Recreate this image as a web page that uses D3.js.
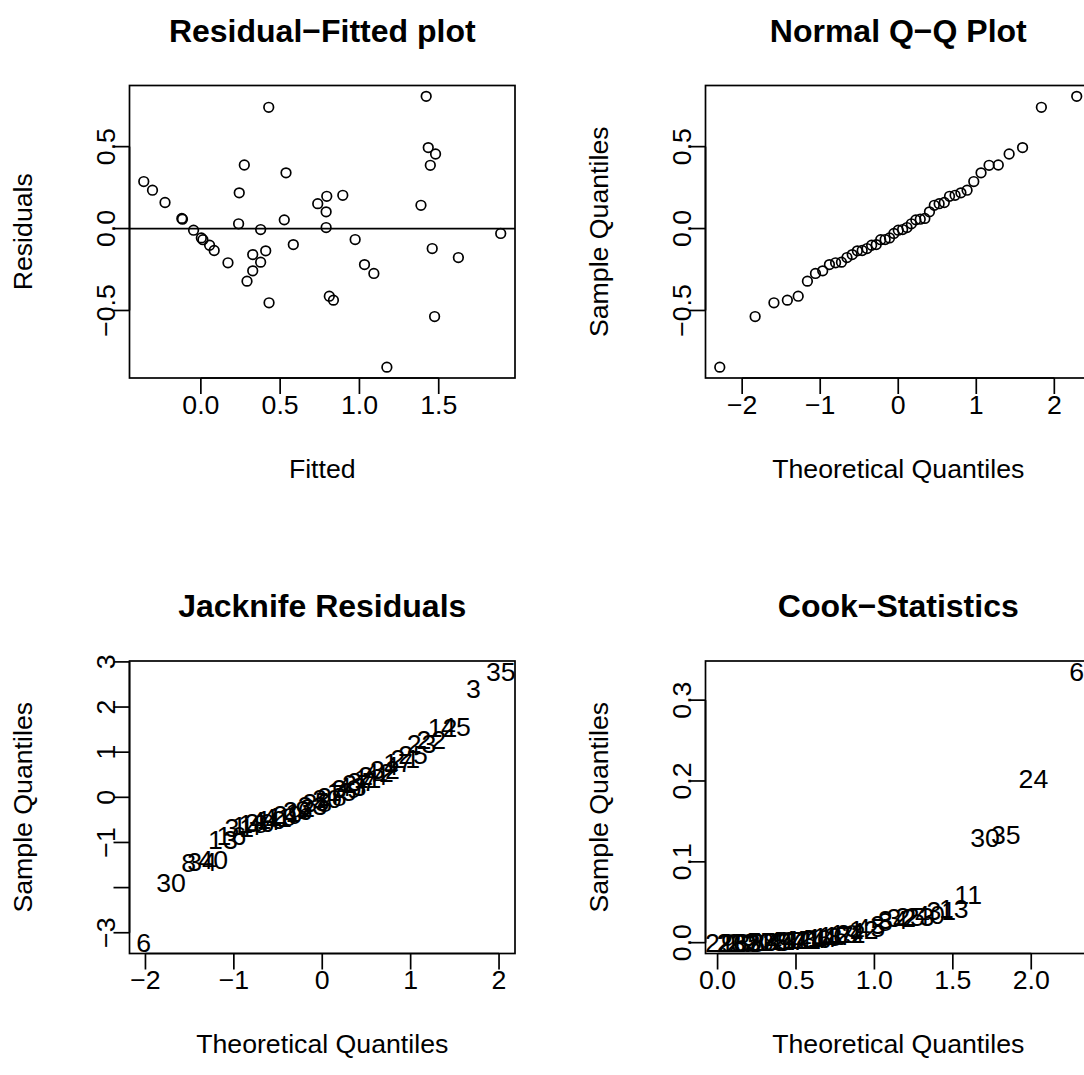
<!DOCTYPE html>
<html>
<head>
<meta charset="utf-8">
<script src="https://cdn.jsdelivr.net/npm/d3@7"></script>
<style>
  body { margin: 0; background: #fff; }
  svg { display: block; }
  text { font-family: "Liberation Sans", Arial, sans-serif; fill: #000; }
</style>
</head>
<body>
<div id="chart"></div>
<script>
// ---- data ----
// residual vs fitted
const fitted = [-0.360, -0.305, -0.226, -0.120, -0.116, -0.046, 0.003, 0.013, 0.055, 0.084,
  0.171, 0.238, 0.242, 0.274, 0.327, 0.327, 0.291, 0.377, 0.377, 0.409,
  0.428, 0.430, 0.537, 0.526, 0.583, 0.737, 0.794, 0.790, 0.790, 0.895,
  0.973, 1.032, 1.091, 0.810, 0.836, 1.173, 1.421, 1.434, 1.480, 1.447,
  1.388, 1.459, 1.624, 1.474, 1.891];
const residuals = [0.287, 0.234, 0.159, 0.062, 0.057, -0.010, -0.057, -0.068, -0.102, -0.134,
  -0.209, 0.029, 0.218, 0.388, -0.159, -0.258, -0.321, -0.006, -0.205, -0.136,
  0.740, -0.453, 0.340, 0.053, -0.098, 0.152, 0.197, 0.102, 0.006, 0.203,
  -0.067, -0.220, -0.274, -0.413, -0.437, -0.846, 0.807, 0.494, 0.455, 0.386,
  0.142, -0.122, -0.177, -0.537, -0.030];

// normal quantiles used by the three quantile plots
const qqTheory = [-2.287, -1.834, -1.593, -1.421, -1.282, -1.164, -1.061, -0.968, -0.882, -0.803,
  -0.728, -0.657, -0.590, -0.524, -0.462, -0.400, -0.341, -0.282, -0.225, -0.168,
  -0.112, -0.056, 0, 0.056, 0.112, 0.168, 0.225, 0.282, 0.341, 0.400,
  0.462, 0.524, 0.590, 0.657, 0.728, 0.803, 0.882, 0.968, 1.061, 1.164,
  1.282, 1.421, 1.593, 1.834, 2.287];
const jackTheory = [-2.019, -1.711, -1.512, -1.360, -1.234, -1.124, -1.027, -0.939, -0.857, -0.781,
  -0.709, -0.641, -0.575, -0.512, -0.451, -0.391, -0.333, -0.276, -0.220, -0.164,
  -0.109, -0.055, 0, 0.055, 0.109, 0.164, 0.220, 0.276, 0.333, 0.391,
  0.451, 0.512, 0.575, 0.641, 0.709, 0.781, 0.857, 0.939, 1.027, 1.124,
  1.234, 1.360, 1.512, 1.711, 2.019];
const jackValues = [-3.22, -1.89, -1.45, -1.42, -1.38, -0.94, -0.84, -0.66, -0.62, -0.58,
  -0.55, -0.52, -0.48, -0.45, -0.42, -0.38, -0.33, -0.30, -0.27, -0.22,
  -0.17, -0.12, -0.08, -0.03, 0.02, 0.08, 0.13, 0.19, 0.25, 0.30,
  0.36, 0.42, 0.48, 0.55, 0.62, 0.70, 0.78, 0.87, 0.96, 1.20,
  1.28, 1.55, 1.58, 2.41, 2.78];
const jackLabels = [6, 30, 8, 34, 40, 13, 16, 31, 14, 18, 36, 44, 10, 41, 19, 29, 1, 26, 9, 2,
  33, 38, 5, 20, 28, 7, 15, 39, 43, 27, 37, 11, 24, 42, 32, 4, 17, 21, 25, 23,
  22, 12, 45, 3, 35];
const cookTheory = [0.014, 0.041, 0.069, 0.097, 0.124, 0.152, 0.180, 0.208, 0.236, 0.265,
  0.293, 0.322, 0.352, 0.381, 0.411, 0.441, 0.471, 0.503, 0.534, 0.566,
  0.599, 0.632, 0.666, 0.701, 0.736, 0.773, 0.811, 0.850, 0.890, 0.932,
  0.975, 1.020, 1.068, 1.118, 1.171, 1.227, 1.288, 1.354, 1.426, 1.506,
  1.598, 1.706, 1.838, 2.014, 2.290];
const cookValues = [0.0000, 0.0001, 0.0002, 0.0003, 0.0004, 0.0005, 0.0006, 0.0008, 0.0010, 0.0012,
  0.0014, 0.0016, 0.0019, 0.0022, 0.0025, 0.0028, 0.0031, 0.0035, 0.0039, 0.0043,
  0.0050, 0.0058, 0.0066, 0.0075, 0.0085, 0.0095, 0.011, 0.012, 0.014, 0.016,
  0.019, 0.023, 0.026, 0.029, 0.031, 0.032, 0.033, 0.035, 0.040, 0.042,
  0.060, 0.130, 0.1345, 0.203, 0.335];
const cookLabels = [21, 2, 9, 26, 1, 29, 33, 38, 5, 20, 28, 7, 15, 39, 43, 27, 37, 42, 10, 41,
  44, 36, 14, 18, 16, 17, 19, 22, 4, 12, 45, 3, 8, 34, 32, 25, 23, 40, 31, 13,
  11, 30, 35, 24, 6];

// tick values
const rfXTicks = [0, 0.5, 1, 1.5];
const rfYTicks = [-0.5, 0, 0.5];
const qqXTicks = [-2, -1, 0, 1, 2];
const qqYTicks = [-0.5, 0, 0.5];
const jackXTicks = [-2, -1, 0, 1, 2];
const jackYTicks = [-3, -2, -1, 0, 1, 2, 3];
const jackYLabelShown = [true, false, true, true, true, true, true];
const cookXTicks = [0, 0.5, 1, 1.5, 2];
const cookYTicks = [0, 0.1, 0.2, 0.3];

// ---- layout, in the style of R's par(mfrow = c(2, 2)) ----
const width = 1084, height = 1075;
const panelW = 576, panelH = 575.5;
const box = {left: 129.5, top: 85.5, w: 385.5, h: 292.5};
const fontSize = 26.7;
const titleSize = 32;
const tickLen = 16;
const lw = 1.7;

const svg = d3.select("#chart").append("svg")
  .attr("width", width)
  .attr("height", height);

// R pads the data range by 4% on each side
function rRange(vals) {
  const [a, b] = d3.extent(vals);
  const d = (b - a) * 0.04;
  return [a - d, b + d];
}

const fmt1 = v => (v < 0 ? "\u2212" : "") + Math.abs(v).toFixed(1);
const fmt0 = v => (v < 0 ? "\u2212" : "") + Math.abs(v);

function panel(col, row, opt) {
  const g = svg.append("g")
    .attr("transform", `translate(${col * panelW},${row * panelH})`);

  const x = d3.scaleLinear().domain(rRange(opt.xs)).range([box.left, box.left + box.w]);
  const y = d3.scaleLinear().domain(rRange(opt.ys)).range([box.top + box.h, box.top]);
  const bottom = box.top + box.h;

  // title
  g.append("text")
    .attr("x", box.left + box.w / 2)
    .attr("y", 41.5)
    .attr("text-anchor", "middle")
    .style("font-size", titleSize + "px")
    .style("font-weight", "bold")
    .text(opt.title);

  // x axis (ticks + labels)
  const xa = g.append("g");
  xa.append("line")
    .attr("x1", x(opt.xTicks[0])).attr("x2", x(opt.xTicks[opt.xTicks.length - 1]))
    .attr("y1", bottom).attr("y2", bottom)
    .attr("stroke", "#000").attr("stroke-width", lw);
  opt.xTicks.forEach(t => {
    xa.append("line")
      .attr("x1", x(t)).attr("x2", x(t))
      .attr("y1", bottom).attr("y2", bottom + tickLen)
      .attr("stroke", "#000").attr("stroke-width", lw);
    xa.append("text")
      .attr("x", x(t)).attr("y", bottom + 35.6)
      .attr("text-anchor", "middle")
      .style("font-size", fontSize + "px")
      .text(opt.xFmt(t));
  });

  // y axis
  const ya = g.append("g");
  ya.append("line")
    .attr("x1", box.left).attr("x2", box.left)
    .attr("y1", y(opt.yTicks[0])).attr("y2", y(opt.yTicks[opt.yTicks.length - 1]))
    .attr("stroke", "#000").attr("stroke-width", lw);
  opt.yTicks.forEach((t, i) => {
    ya.append("line")
      .attr("x1", box.left - tickLen).attr("x2", box.left)
      .attr("y1", y(t)).attr("y2", y(t))
      .attr("stroke", "#000").attr("stroke-width", lw);
    if (opt.yShown && !opt.yShown[i]) return;
    ya.append("text")
      .attr("transform", `translate(${box.left - 14.4},${y(t)}) rotate(-90)`)
      .attr("text-anchor", "middle")
      .style("font-size", fontSize + "px")
      .text(opt.yFmt(t));
  });

  // axis titles
  g.append("text")
    .attr("x", box.left + box.w / 2).attr("y", bottom + 99.5)
    .attr("text-anchor", "middle")
    .style("font-size", fontSize + "px")
    .text(opt.xLabel);
  g.append("text")
    .attr("transform", `translate(${box.left - 98},${box.top + box.h / 2}) rotate(-90)`)
    .attr("text-anchor", "middle")
    .style("font-size", fontSize + "px")
    .text(opt.yLabel);

  const plot = g.append("g");
  opt.draw(plot, x, y);

  // box
  g.append("rect")
    .attr("x", box.left).attr("y", box.top)
    .attr("width", box.w).attr("height", box.h)
    .attr("fill", "none").attr("stroke", "#000").attr("stroke-width", lw);
}

function circles(plot, x, y, xs, ys) {
  plot.selectAll("circle")
    .data(xs.map((v, i) => [v, ys[i]]))
    .join("circle")
    .attr("cx", d => x(d[0]))
    .attr("cy", d => y(d[1]))
    .attr("r", 4.8)
    .attr("fill", "none")
    .attr("stroke", "#000")
    .attr("stroke-width", lw);
}

function labels(plot, x, y, xs, ys, labs) {
  plot.selectAll("text")
    .data(xs.map((v, i) => [v, ys[i], labs[i]]))
    .join("text")
    .attr("x", d => x(d[0]))
    .attr("y", d => y(d[1]))
    .attr("dy", "0.36em")
    .attr("text-anchor", "middle")
    .style("font-size", fontSize + "px")
    .text(d => d[2]);
}

// Residual-Fitted
panel(0, 0, {
  title: "Residual\u2212Fitted plot", xLabel: "Fitted", yLabel: "Residuals",
  xs: fitted, ys: residuals, xTicks: rfXTicks, yTicks: rfYTicks, xFmt: fmt1, yFmt: fmt1,
  draw: (p, x, y) => {
    circles(p, x, y, fitted, residuals);
    p.append("line")
      .attr("x1", box.left).attr("x2", box.left + box.w)
      .attr("y1", y(0)).attr("y2", y(0))
      .attr("stroke", "#000").attr("stroke-width", lw);
  }
});

// Normal Q-Q
const qqSample = d3.sort(residuals);
panel(1, 0, {
  title: "Normal Q\u2212Q Plot", xLabel: "Theoretical Quantiles", yLabel: "Sample Quantiles",
  xs: qqTheory, ys: qqSample, xTicks: qqXTicks, yTicks: qqYTicks, xFmt: fmt0, yFmt: fmt1,
  draw: (p, x, y) => circles(p, x, y, qqTheory, qqSample)
});

// Jacknife residuals
panel(0, 1, {
  title: "Jacknife Residuals", xLabel: "Theoretical Quantiles", yLabel: "Sample Quantiles",
  xs: jackTheory, ys: jackValues, xTicks: jackXTicks, yTicks: jackYTicks, yShown: jackYLabelShown,
  xFmt: fmt0, yFmt: fmt0,
  draw: (p, x, y) => labels(p, x, y, jackTheory, jackValues, jackLabels)
});

// Cook statistics
panel(1, 1, {
  title: "Cook\u2212Statistics", xLabel: "Theoretical Quantiles", yLabel: "Sample Quantiles",
  xs: cookTheory, ys: cookValues, xTicks: cookXTicks, yTicks: cookYTicks, xFmt: fmt1, yFmt: fmt1,
  draw: (p, x, y) => labels(p, x, y, cookTheory, cookValues, cookLabels)
});
</script>
</body>
</html>
